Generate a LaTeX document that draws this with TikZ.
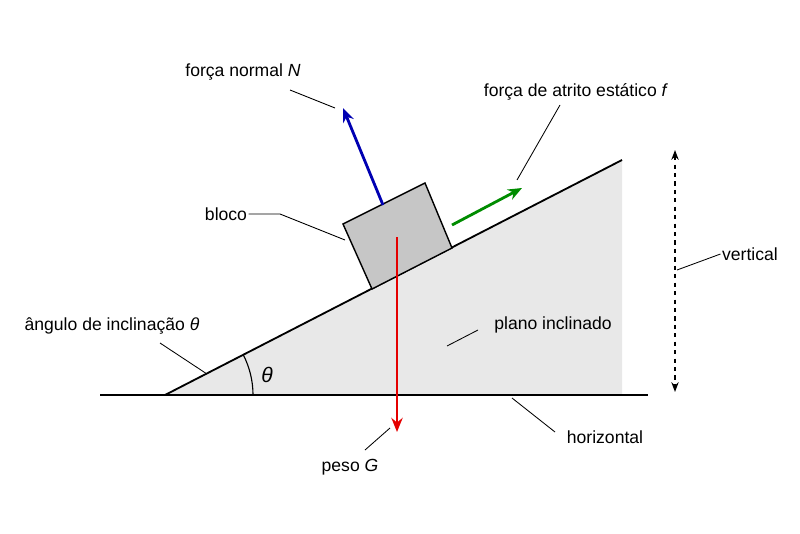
\documentclass[tikz,border=0pt]{standalone}
\usepackage{fontspec}
\setmainfont{Liberation Sans}
\usetikzlibrary{arrows.meta,positioning}
\begin{document}
\begin{tikzpicture}[x=0.025cm,y=-0.025cm,
  every node/.style={font=\fontsize{12.5}{14}\selectfont},
  lbl/.style={inner sep=1pt},
  lead/.style={black,line width=0.6pt},
  force/.style={line width=2pt,-{Stealth[length=10pt,width=8pt]}}]
\useasboundingbox (0,0) rectangle (800,533);
% plane
\coordinate (A) at (165,395);
\coordinate (T) at (622,160);
\coordinate (R) at (622,395);
\fill [gray!18] (A) -- (T) -- (R) -- cycle;
\draw [line width=1.3pt] (A) -- (T);
\draw [line width=1.5pt] (100,395) coordinate (hl) -- (648,395) coordinate (hr);
\draw [line width=0.8pt] ([shift={(0:88)}]A) arc [start angle=0,end angle=-27.2,radius=88];
\node (th) at (267,375) {\fontsize{15}{16}\selectfont\textit{θ}};
% block
\coordinate (b1) at (372,289);
\coordinate (b2) at (452,248);
\coordinate (b3) at (425,183);
\coordinate (b4) at (343,224);
\draw [fill=gray!45,line width=1pt] (b1) -- (b2) -- (b3) -- (b4) -- cycle;
% forces
\draw [force,blue!70!black] (383,205) coordinate (nS) -- (343,108) coordinate (nE);
\draw [force,green!55!black] (452,225) coordinate (fS) -- (522,188) coordinate (fE);
\draw [force,red!90!black] (397,237) coordinate (gS) -- (397,432) coordinate (gE);
\draw [line width=1pt,dashed,{Stealth[length=7pt]}-{Stealth[length=7pt]}] (675,150) coordinate (v1) -- (675,392) coordinate (v2);
% labels
\node [lbl] (nN) at (243,72) {força normal \textit{N}};
\draw [lead] (290,90) -- (335,108);
\node [lbl] (nF) at (576,92) {força de atrito estático \textit{f}};
\draw [lead] (560,105) -- (517,180);
\node [lbl] (nB) at (226,214) {bloco};
\draw [lead] (nB.east) -- (280,214) -- (345,240);
\node [lbl] (nV) at (750,254) {vertical};
\draw [lead] (nV.west) -- (677,270);
\node [lbl] (nA) at (112,326) {ângulo de inclinação \textit{θ}};
\draw [lead] (160,343) -- (207,374);
\node [lbl] (nP) at (553,325) {plano inclinado};
\draw [lead] (478,330) -- (447,346);
\node [lbl] (nG) at (350,467) {peso \textit{G}};
\draw [lead] (365,450) -- (390,428);
\node [lbl] (nH) at (605,437) {horizontal};
\draw [lead] (555,432) -- (512,398);
\end{tikzpicture}
\end{document}
